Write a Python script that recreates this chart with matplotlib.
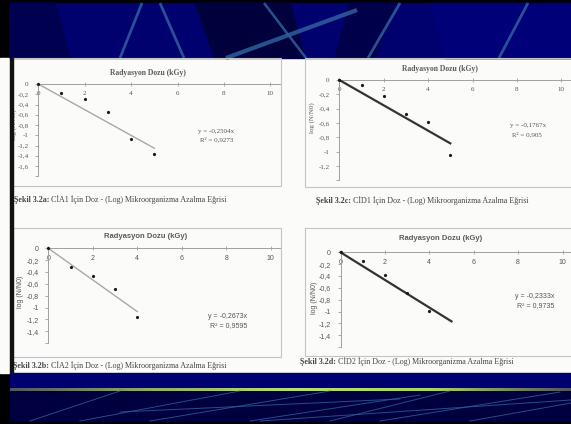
import matplotlib
matplotlib.use("Agg")
import matplotlib.pyplot as plt
from matplotlib.patches import Rectangle, Polygon
from matplotlib.ticker import FixedLocator, FuncFormatter
import numpy as np

# ---------------- data ----------------
dose_a = [0, 1, 2, 3, 4, 5]
logr_a = [0, -0.18, -0.30, -0.54, -1.07, -1.37]
slope_a = -0.2504
eq_a = ["y = -0,2504x", "R² = 0,9273"]
cap_a = ["Şekil 3.2a:", " CİA1 İçin Doz - (Log) Mikroorganizma Azalma Eğrisi"]

dose_b = [0, 1, 2, 3, 4, 5]
logr_b = [0, -0.07, -0.23, -0.47, -0.59, -1.05]
slope_b = -0.1767
eq_b = ["y = -0,1767x", "R² = 0,905"]
cap_b = ["Şekil 3.2c:", " CİD1 İçin Doz - (Log) Mikroorganizma Azalma Eğrisi"]

dose_c = [0, 1, 2, 3, 4]
logr_c = [0, -0.32, -0.46, -0.68, -1.16]
slope_c = -0.2673
eq_c = ["y = -0,2673x", "R² = 0,9595"]
cap_c = ["Şekil 3.2b:", " CİA2 İçin Doz - (Log) Mikroorganizma Azalma Eğrisi"]

dose_d = [0, 1, 2, 3, 4]
logr_d = [0, -0.14, -0.38, -0.68, -0.99]
slope_d = -0.2333
eq_d = ["y = -0,2333x", "R² = 0,9735"]
cap_d = ["Şekil 3.2d:", " CİD2 İçin Doz - (Log) Mikroorganizma Azalma Eğrisi"]

x_ticks = [0, 2, 4, 6, 8, 10]
x_title = "Radyasyon Dozu (kGy)"
y_title = "log (N/N0)"

# ---------------- figure ----------------
W, H = 571, 424
fig = plt.figure(figsize=(W / 100, H / 100), dpi=100)

bg = fig.add_axes([0, 0, 1, 1])
bg.set_xlim(0, W)
bg.set_ylim(H, 0)
bg.axis('off')

# black frame
bg.add_patch(Rectangle((0, 0), W, H, color='black', zorder=0))
# white page area
bg.add_patch(Rectangle((0, 58), W, 315, color='#fbfbfa', zorder=1))

# header
bg.add_patch(Rectangle((10, 3), W - 10, 55, color='#00006e', zorder=1))
for poly, col in [
    ([(10, 3), (55, 3), (70, 58), (10, 58)], '#000050'),
    ([(195, 3), (290, 3), (305, 58), (215, 58)], '#00003c'),
    ([(350, 3), (395, 3), (375, 58), (335, 58)], '#00004a'),
    ([(430, 3), (571, 3), (571, 58), (445, 58)], '#000078'),
]:
    bg.add_patch(Polygon(poly, closed=True, color=col, zorder=1.5))
for (x0, y0, x1, y1, lw) in [
    (120, 58, 142, 3, 2.0), (160, 3, 184, 58, 2.0), (226, 58, 357, 10, 3.0),
    (264, 3, 306, 58, 1.8), (368, 58, 400, 3, 2.0), (499, 58, 528, 3, 2.0),
]:
    bg.plot([x0, x1], [y0, y1], color='#2f5f9f', lw=lw, alpha=0.85,
            solid_capstyle='butt', zorder=2)

# footer
bg.add_patch(Rectangle((10, 373), W - 10, 16, color='#000070', zorder=1))
bg.add_patch(Rectangle((10, 391), W - 10, 30, color='#00003e', zorder=1))
grad = np.linspace(0, 1, 256)
cmap = matplotlib.colors.LinearSegmentedColormap.from_list(
    'g', ['#555560', '#8fb060', '#b8e070', '#a8d860', '#555560'])
bg.imshow(grad[None, :], extent=(10, W, 391, 388.5), aspect='auto', cmap=cmap, zorder=2)
for (x0, y0, x1, y1) in [
    (30, 421, 120, 391), (80, 421, 240, 391), (150, 421, 330, 391),
    (250, 421, 420, 395), (120, 412, 400, 399), (330, 421, 450, 391),
    (380, 421, 560, 392), (470, 421, 571, 403), (260, 421, 571, 400),
]:
    bg.plot([x0, x1], [y0, y1], color='#2f5f9f', lw=0.7, alpha=0.8, zorder=2)

# scanned chart frames
for (x0, y0, x1, y1) in [(12, 58, 281, 186), (305, 58, 575, 187),
                         (12, 228, 281, 357), (305, 228, 575, 356)]:
    bg.add_patch(Rectangle((x0, y0), x1 - x0, y1 - y0, fill=False,
                           ec='#c4c4c4', lw=0.8, zorder=2))


def px_axes(x0, ytop, width, height):
    return fig.add_axes([x0 / W, 1 - (ytop + height) / H, width / W, height / H])


comma = FuncFormatter(lambda v, p: ('%g' % round(v, 1)).replace('.', ','))


def panel(x0, ytop, xscale, yscale, ymin, ylabels_to, dose, logr, slope, xend,
          line_col, line_w, eq, eq_pos, title_pos, ylab_pos, cap, cap_pos, serif):
    fam = 'Liberation Serif' if serif else 'Liberation Sans'
    ax = px_axes(x0, ytop, 10.4 * xscale, -ymin * yscale)
    ax.set_xlim(0, 10.4)
    ax.set_ylim(ymin, 0)
    ax.patch.set_alpha(0)
    for s in ['top', 'right']:
        ax.spines[s].set_visible(False)
    ax.spines['bottom'].set_position(('data', 0))
    for s in ['bottom', 'left']:
        ax.spines[s].set_color('#a0a0a0')
        ax.spines[s].set_linewidth(0.7)
    ax.xaxis.set_major_locator(FixedLocator(x_ticks))
    yt = np.round(np.arange(0, ymin - 0.01, -0.2), 1)
    ax.yaxis.set_major_locator(FixedLocator(yt))
    ax.yaxis.set_major_formatter(FuncFormatter(
        lambda v, p: comma(v, p) if v >= ylabels_to - 1e-6 else ''))
    ax.xaxis.set_major_formatter(comma)
    ax.tick_params(axis='x', direction='inout', length=3, width=0.6, color='#a0a0a0',
                   labelsize=5, labelcolor='#555555', pad=3.5)
    ax.tick_params(axis='y', direction='out', length=2, width=0.6, color='#a0a0a0',
                   labelsize=5, labelcolor='#555555', pad=5)
    for lab in ax.get_xticklabels() + ax.get_yticklabels():
        lab.set_family(fam)
    xs = np.array([0, xend])
    ax.plot(xs, slope * xs, color=line_col, lw=line_w, zorder=3, clip_on=False)
    ax.plot(dose, logr, 'o', ms=2.3, mew=0, color='#1a1a1a', zorder=4, clip_on=False)
    # texts in pixel coordinates of the background axes
    bg.text(eq_pos[0], eq_pos[1], eq[0], fontsize=5, color='#555555', family=fam,
            ha='left', va='center', zorder=5)
    bg.text(eq_pos[0] + 2, eq_pos[1] + 9, eq[1], fontsize=5, color='#555555', family=fam,
            ha='left', va='center', zorder=5)
    bg.text(title_pos[0], title_pos[1], x_title, fontsize=5.5, fontweight='bold',
            color='#5a5a5a', family=fam, ha='center', va='center', zorder=5)
    bg.text(ylab_pos[0], ylab_pos[1], y_title, fontsize=5, color='#555555', family=fam,
            rotation=90, ha='center', va='center', zorder=5)
    t1 = bg.text(cap_pos[0], cap_pos[1], cap[0], fontsize=5.8, fontweight='bold',
                 color='#444444', family='Liberation Serif', ha='left', va='center',
                 zorder=5)
    bg.annotate(cap[1], xy=(1, 0.5), xycoords=t1, fontsize=5.8, color='#444444',
                family='Liberation Serif', ha='left', va='center', zorder=5)
    return ax


panel(38.3, 84, 23.2, 51.3, -1.8, -1.6, dose_a, logr_a, slope_a, 5,
      '#a8a8a8', 1.0, eq_a, (198, 131), (148, 73), (14, 125), cap_a, (14, 200), True)
panel(339.3, 80, 22.2, 71.7, -1.4, -1.2, dose_b, logr_b, slope_b, 5,
      '#333333', 1.6, eq_b, (510, 126), (440, 69), (312, 118), cap_b, (316, 201), True)
panel(48.3, 248.3, 22.24, 59.2, -1.6, -1.4, dose_c, logr_c, slope_c, 4,
      '#a8a8a8', 1.0, eq_c, (208, 317), (146, 237), (21, 292), cap_c, (13, 366), False)
panel(340.5, 252.3, 22.2, 59.2, -1.6, -1.4, dose_d, logr_d, slope_d, 5,
      '#333333', 1.6, eq_d, (515, 297), (441, 238), (315, 298), cap_d, (300, 362), False)

# overlay: scan border line on the left
ov = fig.add_axes([0, 0, 1, 1])
ov.set_xlim(0, W)
ov.set_ylim(H, 0)
ov.axis('off')
ov.patch.set_alpha(0)
ov.add_patch(Rectangle((10, 58), 3, 315, color='#111111'))

fig.savefig('out.png', dpi=100)
